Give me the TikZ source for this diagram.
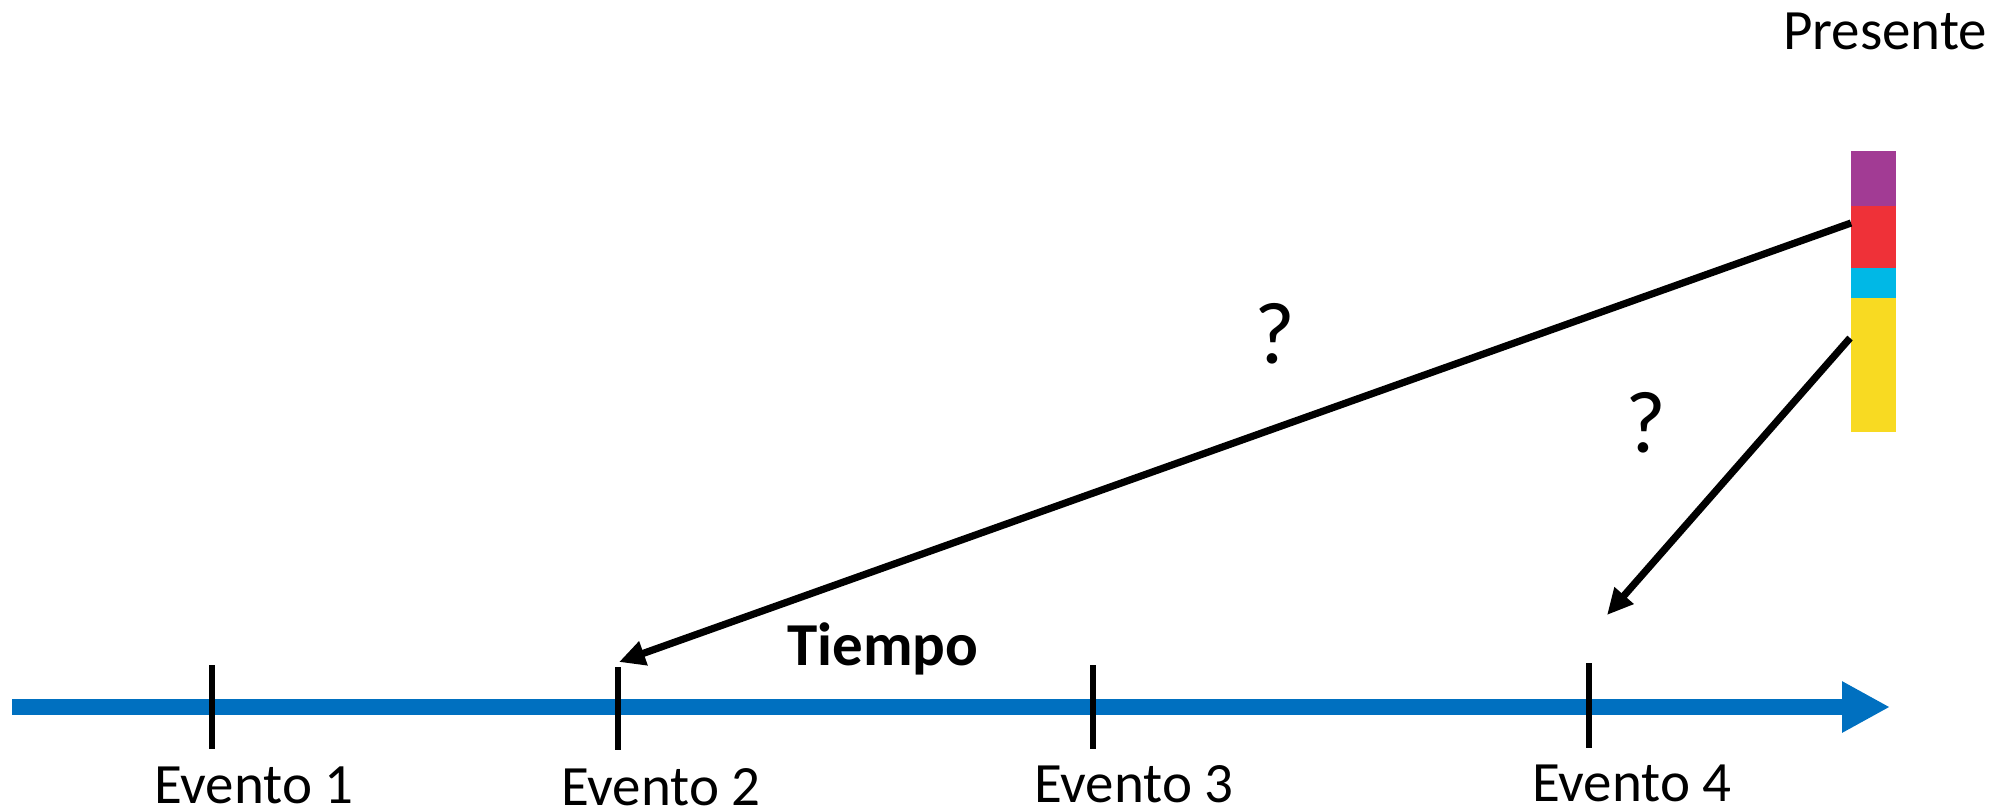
\documentclass[tikz,border=0pt]{standalone}
\usepackage{fontspec}
\setmainfont{Carlito}
\usetikzlibrary{arrows.meta}
\definecolor{timeblue}{RGB}{0,112,192}
\definecolor{barpurple}{RGB}{162,59,148}
\definecolor{barred}{RGB}{239,49,56}
\definecolor{barcyan}{RGB}{0,184,230}
\definecolor{baryellow}{RGB}{248,218,34}
\begin{document}
\begin{tikzpicture}[x=0.5pt,y=-0.5pt,
  label/.style={inner sep=0pt,anchor=base,font=\fontsize{28.5pt}{32pt}\selectfont},
  qmark/.style={inner sep=0pt,anchor=base,font=\fontsize{44pt}{48pt}\selectfont},
  tick/.style={line width=2.75pt,black},
  link/.style={line width=3.6pt,black,-{Triangle[length=13pt,width=12pt]}},
  seg/.style={inner sep=0pt,outer sep=0pt,minimum width=22.3pt,anchor=north west}]
\useasboundingbox (0,0) rectangle (2005,811);

% time axis
\coordinate (t0) at (12,707);
\coordinate (t1) at (1890,707);
\draw[line width=8pt,timeblue,-{Triangle[length=24pt,width=24pt]}] (t0) -- (t1);
\node[inner sep=0pt,anchor=base,font=\bfseries\fontsize{30.5pt}{34pt}\selectfont] (tiempo) at (883,665) {Tiempo};

% event ticks
\foreach \i/\x/\ya/\yb in {1/212/665/749, 2/618/667/750, 3/1093/665/749, 4/1589/663/748}{
  \coordinate (e\i top) at (\x,\ya);
  \coordinate (e\i bot) at (\x,\yb);
  \draw[tick] (e\i top) -- (e\i bot);
}
\node[label] (ev1) at (254,803) {Evento 1};
\node[label] (ev2) at (661,805) {Evento 2};
\node[label] (ev3) at (1134,802) {Evento 3};
\node[label] (ev4) at (1632,801) {Evento 4};

% present stack
\node[label] (presente) at (1885,49) {Presente};
\node[seg,fill=barpurple,minimum height=27.4pt] (purple) at (1851,151) {};
\node[seg,fill=barred,minimum height=31.2pt] (red) at (1851,205.7) {};
\node[seg,fill=barcyan,minimum height=15pt] (cyan) at (1851,268) {};
\node[seg,fill=baryellow,minimum height=67pt] (yellow) at (1851,298) {};

% links from the present back to past events
\coordinate (fromred) at (1851,223);
\coordinate (toev2) at (619,662);
\coordinate (fromyellow) at (1850,338);
\coordinate (toev4) at (1607,615);
\draw[link] (fromred) -- (toev2);
\draw[link] (fromyellow) -- (toev4);
\node[qmark] (q1) at (1275,363) {?};
\node[qmark] (q2) at (1646,452) {?};
\end{tikzpicture}
\end{document}
